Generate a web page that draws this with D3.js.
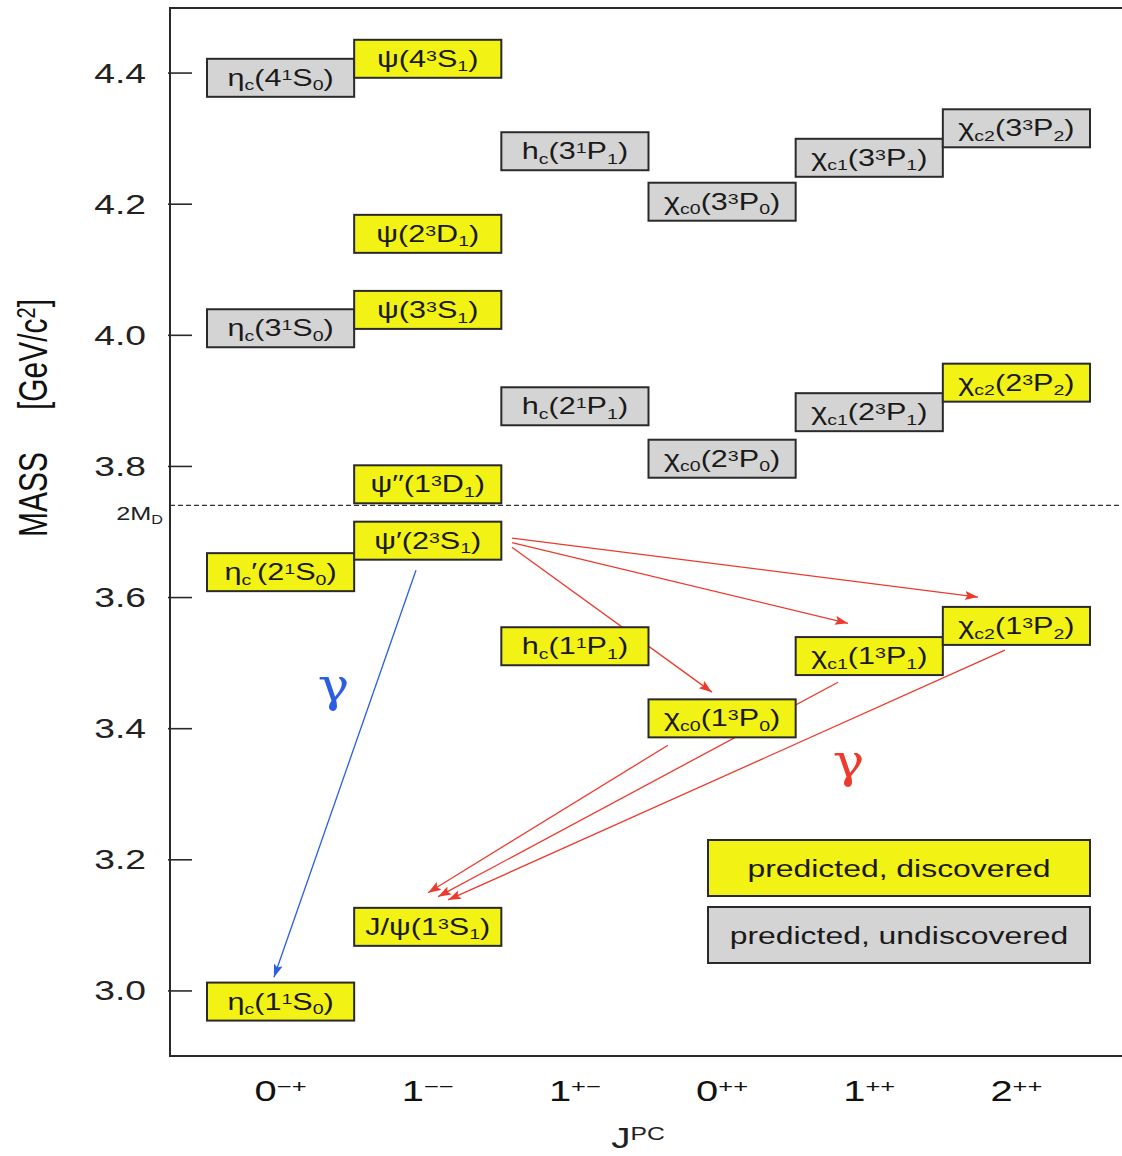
<!DOCTYPE html>
<html>
<head>
<meta charset="utf-8">
<script src="https://cdn.jsdelivr.net/npm/d3@7"></script>
<style>
  body { margin: 0; background: #fff; }
  svg { display: block; }
</style>
</head>
<body>
<svg id="chart" width="1122" height="1156"></svg>
<script>
// ---- data -------------------------------------------------------------
const jpcCodes  = ["0-+", "1--", "1+-", "0++", "1++", "2++"];
const jpcLabels = ["0^{−+}", "1^{−−}", "1^{+−}", "0^{++}", "1^{++}", "2^{++}"];
const massTicks = [3.0, 3.2, 3.4, 3.6, 3.8, 4.0, 4.2, 4.4];

// charmonium states: label (markup: _ subscript, ^ superscript), J^PC, mass [GeV], observed?
const stateLabels = [
  "η_c(1^1S_0)", "η_c′(2^1S_0)", "η_c(3^1S_0)", "η_c(4^1S_0)",
  "J/ψ(1^3S_1)", "ψ′(2^3S_1)", "ψ′′(1^3D_1)", "ψ(3^3S_1)", "ψ(2^3D_1)", "ψ(4^3S_1)",
  "h_c(1^1P_1)", "h_c(2^1P_1)", "h_c(3^1P_1)",
  "χ_{c0}(1^3P_0)", "χ_{c0}(2^3P_0)", "χ_{c0}(3^3P_0)",
  "χ_{c1}(1^3P_1)", "χ_{c1}(2^3P_1)", "χ_{c1}(3^3P_1)",
  "χ_{c2}(1^3P_2)", "χ_{c2}(2^3P_2)", "χ_{c2}(3^3P_2)"
];
const stateJPC = [
  "0-+", "0-+", "0-+", "0-+",
  "1--", "1--", "1--", "1--", "1--", "1--",
  "1+-", "1+-", "1+-",
  "0++", "0++", "0++",
  "1++", "1++", "1++",
  "2++", "2++", "2++"
];
const stateMass = [
  2.983, 3.638, 4.010, 4.392,
  3.097, 3.686, 3.772, 4.038, 4.154, 4.421,
  3.525, 3.891, 4.280,
  3.415, 3.811, 4.203,
  3.510, 3.882, 4.270,
  3.556, 3.927, 4.315
];
const stateFound = [
  true, true, false, false,
  true, true, true, true, true, true,
  true, false, false,
  true, false, false,
  true, false, false,
  true, true, false
];

// open-charm threshold
const thresholdMass  = 3.74;
const thresholdLabel = "2M_D";

// radiative transitions: endpoints as [column position, mass], column i spans [i, i+1]
const transStart = [
  [2.072, 3.690], [2.072, 3.683], [2.072, 3.676],
  [3.132, 3.374], [4.288, 3.470], [5.422, 3.519],
  [1.420, 3.641]
];
const transEnd = [
  [5.239, 3.600], [4.356, 3.560], [3.431, 3.455],
  [1.502, 3.149], [1.570, 3.143], [1.638, 3.138],
  [0.455, 3.020]
];
const transKind = ["E1", "E1", "E1", "E1", "E1", "E1", "M1"];

// photon labels: [column position, baseline mass]
const gammaPos  = [[0.86, 3.441], [4.36, 3.326]];
const gammaKind = ["M1", "E1"];

const legendLabels = ["predicted, discovered", "predicted, undiscovered"];
const legendFound  = [true, false];

// ---- layout & style --------------------------------------------------
const W = 1122, H = 1156;
const frame = { left: 170, top: 8, bottom: 1056 };
const colRange = [207, 1090];
const SX = 1.33;                 // horizontal glyph stretch
const FONT = "'Liberation Sans', Arial, Helvetica, sans-serif";
const SERIF = "'DejaVu Serif', 'Liberation Serif', serif";
const YELLOW = "#f2f214", GREY = "#d4d4d4", EDGE = "#2a2a2a";
const RED = "#ec3a2c", BLUE = "#2b5ee0";
const boxH = 38;

const svg = d3.select("#chart");

const y = d3.scaleLinear().domain([2.9, 4.5]).range([frame.bottom, 7]);
const xBand = d3.scaleBand().domain(jpcCodes).range(colRange).padding(0);
const xCol = d3.scaleLinear().domain([0, jpcCodes.length]).range(colRange);

// text with sub/superscripts: "_x", "^x", "_{..}", "^{..}"
function richText(sel, str, size) {
  const re = /([_^])(\{([^}]*)\}|(.))/g;
  const parts = [];
  let last = 0, m;
  while ((m = re.exec(str))) {
    if (m.index > last) parts.push({ t: str.slice(last, m.index), k: "n" });
    parts.push({ t: m[3] !== undefined ? m[3] : m[4], k: m[1] === "_" ? "sub" : "sup" });
    last = re.lastIndex;
  }
  if (last < str.length) parts.push({ t: str.slice(last), k: "n" });
  let shift = 0;
  parts.forEach(p => {
    const target = p.k === "sub" ? size * 0.2 : p.k === "sup" ? -size * 0.26 : 0;
    sel.append("tspan")
      .attr("dy", target - shift)
      .attr("font-size", p.k === "n" ? size : size * 0.64)
      .text(p.t);
    shift = target;
  });
  return sel;
}

function stretchedText(parent, x, yPos, str, size, anchor, opts = {}) {
  const g = parent.append("g")
    .attr("transform", `translate(${x},${yPos}) scale(${opts.sx || SX},1)` + (opts.rotate ? ` rotate(${opts.rotate})` : ""));
  const t = g.append("text")
    .attr("text-anchor", anchor)
    .attr("font-family", opts.family || FONT)
    .attr("font-size", size)
    .attr("fill", opts.fill || "#111");
  richText(t, str, size);
  return t;
}

// ---- frame & axes ----------------------------------------------------
svg.append("rect")
  .attr("x", frame.left).attr("y", frame.top)
  .attr("width", W - frame.left + 20).attr("height", frame.bottom - frame.top)
  .attr("fill", "none").attr("stroke", EDGE).attr("stroke-width", 2);

const yAxis = svg.append("g")
  .attr("transform", `translate(${frame.left},0)`)
  .call(d3.axisLeft(y).tickValues(massTicks).tickSizeInner(-22).tickSizeOuter(0).tickFormat(""));
yAxis.select(".domain").remove();
yAxis.selectAll(".tick line").attr("stroke", EDGE).attr("stroke-width", 1.6).attr("x1", -2);

massTicks.forEach(v => {
  stretchedText(svg, frame.left - 24, y(v) + 10, d3.format(".1f")(v), 28, "end", { fill: "#222" });
});

// threshold line
svg.append("line")
  .attr("x1", frame.left).attr("x2", W)
  .attr("y1", y(thresholdMass)).attr("y2", y(thresholdMass))
  .attr("stroke", "#333").attr("stroke-width", 1.3)
  .attr("stroke-dasharray", "5,3");
stretchedText(svg, frame.left - 7, y(thresholdMass) + 15, thresholdLabel, 19, "end", { fill: "#222" });

// J^PC tick labels
jpcCodes.forEach((c, i) => {
  stretchedText(svg, xBand(c) + xBand.bandwidth() / 2, 1101, jpcLabels[i], 30, "middle");
});

// axis titles
stretchedText(svg, 638, 1148, "J^{PC}", 29, "middle", { fill: "#222" });
const yt = stretchedText(svg, 47, 418, "", 30, "middle", { rotate: -90 });
yt.selectAll("tspan").remove();
yt.append("tspan").text("MASS");
yt.append("tspan").attr("dx", 42).text("[GeV/c");
yt.append("tspan").attr("font-size", 20).attr("dy", -9).text("2");
yt.append("tspan").attr("dy", 9).text("]");

// ---- transitions -----------------------------------------------------
const defs = svg.append("defs");
[["E1", RED], ["M1", BLUE]].forEach(([k, col]) => {
  defs.append("marker")
    .attr("id", "head-" + k)
    .attr("markerUnits", "userSpaceOnUse")
    .attr("markerWidth", 14).attr("markerHeight", 10)
    .attr("refX", 13).attr("refY", 4.5)
    .attr("orient", "auto")
    .append("path")
    .attr("d", "M0,0 L13,4.5 L0,9 L2.5,4.5 Z")
    .attr("fill", col);
});

svg.append("g").selectAll("line")
  .data(transStart.map((s, i) => ({ s, e: transEnd[i], k: transKind[i] })))
  .join("line")
  .attr("x1", d => xCol(d.s[0])).attr("y1", d => y(d.s[1]))
  .attr("x2", d => xCol(d.e[0])).attr("y2", d => y(d.e[1]))
  .attr("stroke", d => d.k === "E1" ? RED : BLUE)
  .attr("stroke-width", 1.3)
  .attr("marker-end", d => `url(#head-${d.k})`);

gammaPos.forEach((p, i) => {
  stretchedText(svg, xCol(p[0]), y(p[1]), "γ", 46, "middle",
    { family: SERIF, sx: 1.15, fill: gammaKind[i] === "E1" ? RED : BLUE });
});

// ---- states ----------------------------------------------------------
const states = svg.append("g").selectAll("g")
  .data(stateLabels.map((lab, i) => ({ lab, jpc: stateJPC[i], m: stateMass[i], found: stateFound[i] })))
  .join("g");

states.append("rect")
  .attr("x", d => xBand(d.jpc))
  .attr("y", d => y(d.m) - boxH / 2)
  .attr("width", xBand.bandwidth())
  .attr("height", boxH)
  .attr("fill", d => d.found ? YELLOW : GREY)
  .attr("stroke", EDGE).attr("stroke-width", 2);

states.each(function (d) {
  stretchedText(d3.select(this), xBand(d.jpc) + xBand.bandwidth() / 2, y(d.m) + 8, d.lab, 23, "middle", { fill: "#1a1a1a" });
});

// ---- legend ----------------------------------------------------------
const legend = svg.append("g");
legendLabels.forEach((lab, i) => {
  const top = 840 + i * 67;
  legend.append("rect")
    .attr("x", 708).attr("y", top).attr("width", 382).attr("height", 56)
    .attr("fill", legendFound[i] ? YELLOW : GREY)
    .attr("stroke", EDGE).attr("stroke-width", 2);
  stretchedText(legend, 899, top + 37, lab, 24, "middle", { fill: "#1a1a1a" });
});
</script>
</body>
</html>
